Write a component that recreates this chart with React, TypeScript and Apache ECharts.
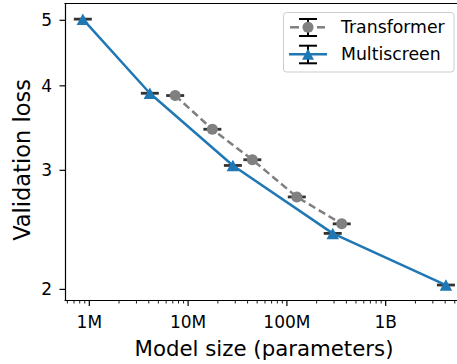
import React, { useEffect, useRef } from "react";
import * as echarts from "echarts";

// ---- data ----
const MULTI_PARAMS = [0.86e6, 4.1e6, 28.4e6, 291e6, 4.07e9];
const MULTI_LOSS = [5.02, 3.9, 3.05, 2.42, 2.03];
const TRANS_PARAMS = [7.4e6, 17.6e6, 44.7e6, 126e6, 359e6];
const TRANS_LOSS = [3.87, 3.45, 3.11, 2.74, 2.5];

// ---- axes ----
const X_MIN = 5.675e5;
const X_MAX = 5.27e9;
const Y_MIN = 1.929;
const Y_MAX = 5.298;
const X_MAJOR = [1e6, 1e7, 1e8, 1e9];
const X_MAJOR_LABELS = ["1M", "10M", "100M", "1B"];
const X_MINOR = [
  6e5, 7e5, 8e5, 9e5,
  2e6, 3e6, 4e6, 5e6, 6e6, 7e6, 8e6, 9e6,
  2e7, 3e7, 4e7, 5e7, 6e7, 7e7, 8e7, 9e7,
  2e8, 3e8, 4e8, 5e8, 6e8, 7e8, 8e8, 9e8,
  2e9, 3e9, 4e9, 5e9,
];
const Y_TICKS = [2, 3, 4, 5];
const Y_TICK_LABELS = ["2", "3", "4", "5"];

const FONT = "DejaVu Sans";
const GRAY = "#808080";
const BLUE = "#1f77b4";

export default function App() {
  const ref = useRef<HTMLDivElement>(null);

  useEffect(() => {
    if (!ref.current) return;
    const chart = echarts.init(ref.current, null, { renderer: "svg" });

    const trans = TRANS_PARAMS.map((x, i) => [x, TRANS_LOSS[i]]);
    const multi = MULTI_PARAMS.map((x, i) => [x, MULTI_LOSS[i]]);

    const xTickData = X_MAJOR.map((v, i) => [v, Y_MIN, 1, i]).concat(
      X_MINOR.map((v) => [v, Y_MIN, 0, -1])
    );
    const yTickData = Y_TICKS.map((v, i) => [X_MIN, v, i]);

    const legendY1 = 27.3;
    const legendY2 = 54.3;
    const lx = 308;

    const spine = { show: true, onZero: false, lineStyle: { color: "#000", width: 1.2 } };
    const hidden = {
      axisTick: { show: false },
      axisLabel: { show: false },
      splitLine: { show: false },
    };

    const option: any = {
      animation: false,
      backgroundColor: "#ffffff",
      grid: { left: 65, top: 3.3, right: 0, bottom: 64, show: false },
      xAxis: [
        { type: "log", logBase: 10, min: X_MIN, max: X_MAX, position: "bottom", axisLine: spine, ...hidden },
        { type: "log", logBase: 10, min: X_MIN, max: X_MAX, position: "top", axisLine: spine, ...hidden },
      ],
      yAxis: {
        type: "log",
        logBase: 10,
        min: Y_MIN,
        max: Y_MAX,
        axisLine: spine,
        ...hidden,
      },
      series: [
        {
          type: "custom",
          name: "xticks",
          coordinateSystem: "cartesian2d",
          silent: true,
          clip: false,
          z: 5,
          data: xTickData,
          renderItem: (_p: any, api: any) => {
            const p = api.coord([api.value(0), api.value(1)]);
            const major = api.value(2) === 1;
            const children: any[] = [
              {
                type: "line",
                shape: { x1: p[0], y1: p[1], x2: p[0], y2: p[1] + (major ? 6 : 3.5) },
                style: { stroke: "#000", lineWidth: major ? 1.2 : 0.9 },
              },
            ];
            if (major) {
              children.push({
                type: "text",
                x: p[0],
                y: p[1] + 21.7,
                style: {
                  text: X_MAJOR_LABELS[api.value(3)],
                  fill: "#000",
                  fontSize: 17,
                  fontFamily: FONT,
                  align: "center",
                  verticalAlign: "middle",
                },
              });
            }
            return { type: "group", children };
          },
        },
        {
          type: "custom",
          name: "yticks",
          coordinateSystem: "cartesian2d",
          silent: true,
          clip: false,
          z: 5,
          data: yTickData,
          renderItem: (_p: any, api: any) => {
            const p = api.coord([api.value(0), api.value(1)]);
            return {
              type: "group",
              children: [
                {
                  type: "line",
                  shape: { x1: p[0] - 5.5, y1: p[1], x2: p[0], y2: p[1] },
                  style: { stroke: "#000", lineWidth: 1.2 },
                },
                {
                  type: "text",
                  x: p[0] - 13,
                  y: p[1],
                  style: {
                    text: Y_TICK_LABELS[api.value(2)],
                    fill: "#000",
                    fontSize: 17,
                    fontFamily: FONT,
                    align: "right",
                    verticalAlign: "middle",
                  },
                },
              ],
            };
          },
        },
        {
          type: "scatter",
          name: "Transformer err",
          data: trans,
          symbol: "rect",
          symbolSize: [18, 2.8],
          itemStyle: { color: "#000" },
          silent: true,
          z: 2,
        },
        {
          type: "scatter",
          name: "Multiscreen err",
          data: multi,
          symbol: "rect",
          symbolSize: [18, 2.8],
          itemStyle: { color: "#000" },
          silent: true,
          z: 2,
        },
        {
          type: "line",
          name: "Transformer",
          data: trans,
          symbol: "circle",
          symbolSize: 11,
          showSymbol: true,
          lineStyle: { color: GRAY, width: 2.5, type: [7.5, 4] },
          itemStyle: { color: GRAY, borderWidth: 0 },
          z: 3,
        },
        {
          type: "line",
          name: "Multiscreen",
          data: multi,
          symbol: "triangle",
          symbolSize: [12.5, 11.5],
          showSymbol: true,
          lineStyle: { color: BLUE, width: 2.5 },
          itemStyle: { color: BLUE, borderWidth: 0 },
          z: 4,
        },
      ],
      graphic: [
        {
          type: "rect",
          z: 100,
          shape: { x: 283.5, y: 12.5, width: 170.5, height: 59.5, r: 3 },
          style: { fill: "rgba(255,255,255,0.8)", stroke: "#cccccc", lineWidth: 1 },
        },
        // Transformer legend entry
        { type: "line", z: 101, shape: { x1: 290, y1: legendY1, x2: 299, y2: legendY1 }, style: { stroke: GRAY, lineWidth: 2.5 } },
        { type: "line", z: 101, shape: { x1: 317, y1: legendY1, x2: 325, y2: legendY1 }, style: { stroke: GRAY, lineWidth: 2.5 } },
        { type: "line", z: 101, shape: { x1: lx, y1: 19, x2: lx, y2: 36 }, style: { stroke: "#000", lineWidth: 2 } },
        { type: "line", z: 101, shape: { x1: 299, y1: 19, x2: 317, y2: 19 }, style: { stroke: "#000", lineWidth: 2 } },
        { type: "line", z: 101, shape: { x1: 299, y1: 36, x2: 317, y2: 36 }, style: { stroke: "#000", lineWidth: 2 } },
        { type: "circle", z: 102, shape: { cx: lx, cy: legendY1, r: 5.5 }, style: { fill: GRAY } },
        {
          type: "text",
          z: 102,
          x: 341,
          y: legendY1,
          style: { text: "Transformer", fill: "#000", fontSize: 17.3, fontFamily: FONT, align: "left", verticalAlign: "middle" },
        },
        // Multiscreen legend entry
        { type: "line", z: 101, shape: { x1: 289, y1: legendY2, x2: 327, y2: legendY2 }, style: { stroke: BLUE, lineWidth: 2.5 } },
        { type: "line", z: 101, shape: { x1: lx, y1: 45.7, x2: lx, y2: 63.3 }, style: { stroke: "#000", lineWidth: 2 } },
        { type: "line", z: 101, shape: { x1: 299, y1: 45.7, x2: 317, y2: 45.7 }, style: { stroke: "#000", lineWidth: 2 } },
        { type: "line", z: 101, shape: { x1: 299, y1: 63.3, x2: 317, y2: 63.3 }, style: { stroke: "#000", lineWidth: 2 } },
        {
          type: "polygon",
          z: 102,
          shape: { points: [[lx, legendY2 - 5.5], [lx - 6, legendY2 + 5.5], [lx + 6, legendY2 + 5.5]] },
          style: { fill: BLUE },
        },
        {
          type: "text",
          z: 102,
          x: 341,
          y: legendY2,
          style: { text: "Multiscreen", fill: "#000", fontSize: 17.3, fontFamily: FONT, align: "left", verticalAlign: "middle" },
        },
        // axis titles
        {
          type: "text",
          z: 50,
          x: 264,
          y: 348,
          style: { text: "Model size (parameters)", fill: "#000", fontSize: 21.3, fontFamily: FONT, align: "center", verticalAlign: "middle" },
        },
        {
          type: "text",
          z: 50,
          x: 21.5,
          y: 160,
          rotation: Math.PI / 2,
          style: { text: "Validation loss", fill: "#000", fontSize: 22.5, fontFamily: FONT, align: "center", verticalAlign: "middle" },
        },
      ],
    };

    chart.setOption(option);
    return () => chart.dispose();
  }, []);

  return (
    <div
      ref={ref}
      style={{ position: "fixed", left: 0, top: 0, width: 457, height: 364, background: "#fff" }}
    />
  );
}
